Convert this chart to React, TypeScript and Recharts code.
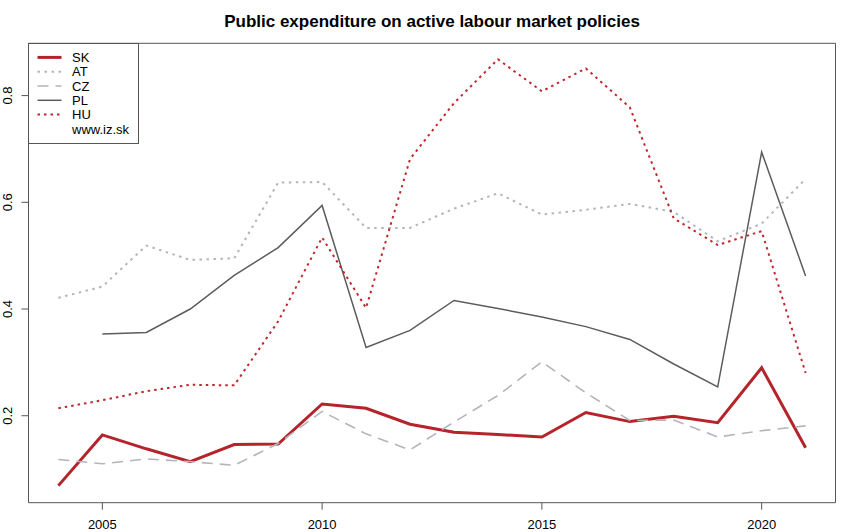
import { LineChart, Line, XAxis, YAxis, ReferenceArea } from "recharts"

const years = [2004, 2005, 2006, 2007, 2008, 2009, 2010, 2011, 2012, 2013, 2014, 2015, 2016, 2017, 2018, 2019, 2020, 2021]
const sk = [0.069, 0.164, 0.138, 0.114, 0.146, 0.147, 0.222, 0.214, 0.184, 0.169, 0.165, 0.16, 0.206, 0.189, 0.199, 0.187, 0.29, 0.14]
const at = [0.421, 0.442, 0.519, 0.492, 0.495, 0.637, 0.638, 0.552, 0.552, 0.588, 0.617, 0.577, 0.586, 0.597, 0.582, 0.527, 0.56, 0.644]
const cz = [0.118, 0.11, 0.119, 0.114, 0.107, 0.148, 0.208, 0.166, 0.136, 0.188, 0.238, 0.301, 0.243, 0.191, 0.192, 0.16, 0.172, 0.181]
const pl = [null, 0.353, 0.356, 0.4, 0.463, 0.515, 0.594, 0.328, 0.36, 0.416, 0.401, 0.385, 0.367, 0.343, 0.297, 0.254, 0.694, 0.462]
const hu = [0.214, 0.229, 0.246, 0.258, 0.257, 0.377, 0.534, 0.402, 0.681, 0.786, 0.868, 0.808, 0.851, 0.778, 0.57, 0.52, 0.546, 0.28]
const xTicks = [2005, 2010, 2015, 2020]
const yTicks = [0.2, 0.4, 0.6, 0.8]

const data = years.map((year, i) => ({ year, SK: sk[i], AT: at[i], CZ: cz[i], PL: pl[i], HU: hu[i] }))

const FONT = "'Liberation Sans', Arial, sans-serif"
const RED = "#b5232b"
const HURED = "#c0282f"
const LIGHT = "#b2b5bb"
const DARK = "#5c5c5c"
const BOX = "#555555"

const X_MIN = 2003.32
const X_MAX = 2021.68
const Y_MIN = 0.037
const Y_MAX = 0.898

const series = [
  { key: "SK", color: RED, width: 3, dash: undefined },
  { key: "AT", color: LIGHT, width: 2, dash: "2.5 4.5" },
  { key: "CZ", color: LIGHT, width: 1.6, dash: "11 7" },
  { key: "PL", color: DARK, width: 1.5, dash: undefined },
  { key: "HU", color: HURED, width: 2, dash: "2.5 4" },
]

const YTick = ({ y, payload }: any) => (
  <text transform={`translate(12, ${y}) rotate(-90)`} textAnchor="middle" fontSize={13} fontFamily={FONT} fill="#000">
    {Number(payload.value).toFixed(1)}
  </text>
)

const XTick = ({ x, payload }: any) => (
  <text x={x} y={529} textAnchor="middle" fontSize={13} fontFamily={FONT} fill="#000">
    {payload.value}
  </text>
)

// legend box in the top-left corner of the plot
const LegendBox = () => (
  <svg width={112} height={102} style={{ position: "absolute", left: 28, top: 43, display: "block" }}>
    <rect x={0.5} y={0.5} width={110} height={100} fill="#fff" stroke={BOX} strokeWidth={1} />
    {series.map((s, i) => (
      <g key={s.key}>
        <line x1={9.5} x2={33.5} y1={14.4 + i * 14.3} y2={14.4 + i * 14.3} stroke={s.color} strokeWidth={s.width} strokeDasharray={s.dash} />
        <text x={44} y={19 + i * 14.3} fontSize={13} fontFamily={FONT} fill="#000">{s.key}</text>
      </g>
    ))}
    <text x={44} y={19 + 5 * 14.3} fontSize={13} fontFamily={FONT} fill="#000">www.iz.sk</text>
  </svg>
)

export default function App() {
  return (
    <div style={{ position: "absolute", left: 0, top: 0, width: 850, height: 532, background: "#fff" }}>
      <div style={{ position: "absolute", left: 28, width: 808, top: 12, lineHeight: "normal", textAlign: "center", fontFamily: FONT, fontWeight: "bold", fontSize: 17, color: "#000" }}>
        Public expenditure on active labour market policies
      </div>
      <LineChart width={850} height={532} data={data} margin={{ top: 43.3, right: 14.5, bottom: 0, left: 0 }}>
        <XAxis dataKey="year" type="number" domain={[X_MIN, X_MAX]} ticks={xTicks} allowDataOverflow height={29.3} axisLine={false} tickSize={7} tickLine={{ stroke: BOX }} tick={<XTick />} />
        <YAxis type="number" domain={[Y_MIN, Y_MAX]} ticks={yTicks} allowDataOverflow width={28.5} axisLine={false} tickSize={7} tickLine={{ stroke: BOX }} tick={<YTick />} />
        <ReferenceArea x1={X_MIN} x2={X_MAX} y1={Y_MIN} y2={Y_MAX} fill="none" stroke={BOX} strokeWidth={1} ifOverflow="visible" />
        {series.map((s) => (
          <Line key={s.key} dataKey={s.key} type="linear" stroke={s.color} strokeWidth={s.width} strokeDasharray={s.dash} dot={false} activeDot={false} isAnimationActive={false} connectNulls={false} />
        ))}
      </LineChart>
      <LegendBox />
    </div>
  )
}
